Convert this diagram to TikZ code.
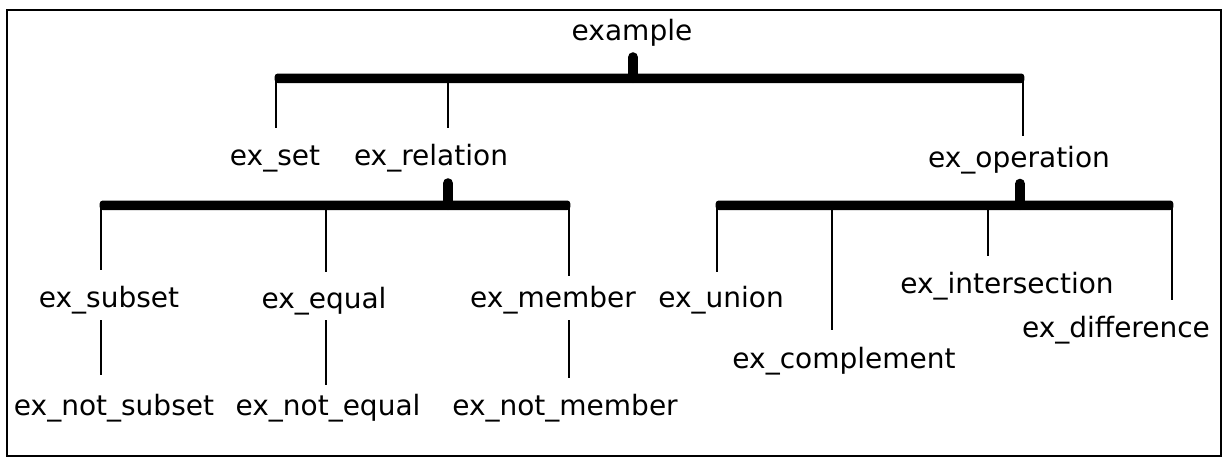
\documentclass[tikz,border=0pt]{standalone}
\usepackage{fontspec}
\setmainfont{DejaVu Sans}
\begin{document}
\begin{tikzpicture}[x=1pt,y=-1pt,
  lbl/.style={inner sep=0pt, anchor=base, font=\fontsize{28}{32}\selectfont},
  drop/.style={line width=2.6pt},
  stem/.style={line width=10pt, line cap=round},
  bar/.style={fill=black, rounded corners=3pt},
  frame/.style={line width=1.6pt}]
\useasboundingbox (0,0) rectangle (1227,464);
\draw[frame] (7,10) rectangle (1221,456);

% labels
\node[lbl] (root)  at (632,40)  {example};
\node[lbl] (set)   at (275,165) {ex\_set};
\node[lbl] (rel)   at (431,165) {ex\_relation};
\node[lbl] (op)    at (1019,167) {ex\_operation};
\node[lbl] (sub)   at (109,307) {ex\_subset};
\node[lbl] (eq)    at (324,308) {ex\_equal};
\node[lbl] (mem)   at (553,307) {ex\_member};
\node[lbl] (nsub)  at (114,415) {ex\_not\_subset};
\node[lbl] (neq)   at (328,415) {ex\_not\_equal};
\node[lbl] (nmem)  at (565,415) {ex\_not\_member};
\node[lbl] (uni)   at (721,307) {ex\_union};
\node[lbl] (comp)  at (844,368) {ex\_complement};
\node[lbl] (inter) at (1007,293) {ex\_intersection};
\node[lbl] (diff)  at (1116,337) {ex\_difference};

% junction points on the bars
\coordinate (jRoot) at (633,78);
\coordinate (jSet)  at (276,78);
\coordinate (jRel)  at (448,78);
\coordinate (jOp)   at (1023,78);
\coordinate (jRelS) at (448,205);
\coordinate (jSub)  at (101,205);
\coordinate (jEq)   at (326,205);
\coordinate (jMem)  at (569,205);
\coordinate (jOpS)  at (1020,205);
\coordinate (jUni)  at (717,205);
\coordinate (jComp) at (832,205);
\coordinate (jInt)  at (988,205);
\coordinate (jDiff) at (1172,205);

% horizontal bars
\fill[bar] (274.7,83) -- (274.7,73.5) -- (1024.3,73.5) -- (1024.3,83) -- cycle;
\fill[bar] (99.7,210) -- (99.7,200.5) -- (570.3,200.5) -- (570.3,210) -- cycle;
\fill[bar] (715.7,210) -- (715.7,200.5) -- (1173.3,200.5) -- (1173.3,210) -- cycle;

% stems from parents to bars
\draw[stem, shorten >=11.2pt] (jRoot) -- (jRoot |- root.south);
\draw[stem, shorten >=11.4pt] (jRelS) -- (jRelS |- rel.south);
\draw[stem, shorten >=9.9pt]  (jOpS)  -- (jOpS |- op.south);

% drops from bars to children
\draw[drop, shorten >=17pt]   (jSet)  -- (jSet |- set.north);
\draw[drop, shorten >=15.7pt] (jRel)  -- (jRel |- rel.north);
\draw[drop, shorten >=9.7pt]  (jOp)   -- (jOp |- op.north);
\draw[drop, shorten >=15.7pt] (jSub)  -- (jSub |- sub.north);
\draw[drop, shorten >=14.7pt] (jEq)   -- (jEq |- eq.north);
\draw[drop, shorten >=9.7pt]  (jMem)  -- (jMem |- mem.north);
\draw[drop, shorten >=13.7pt] (jUni)  -- (jUni |- uni.north);
\draw[drop, shorten >=16.7pt] (jComp) -- (jComp |- comp.north);
\draw[drop, shorten >=15.7pt] (jInt)  -- (jInt |- inter.north);
\draw[drop, shorten >=15.7pt] (jDiff) -- (jDiff |- diff.north);

% single links to the negated leaves
\draw[drop, shorten <=6.4pt, shorten >=18.7pt] (jSub |- sub.south) -- (jSub |- nsub.north);
\draw[drop, shorten <=5.4pt, shorten >=8.7pt]  (jEq |- eq.south)   -- (jEq |- neq.north);
\draw[drop, shorten <=6.4pt, shorten >=15.7pt] (jMem |- mem.south) -- (jMem |- nmem.north);
\end{tikzpicture}
\end{document}
